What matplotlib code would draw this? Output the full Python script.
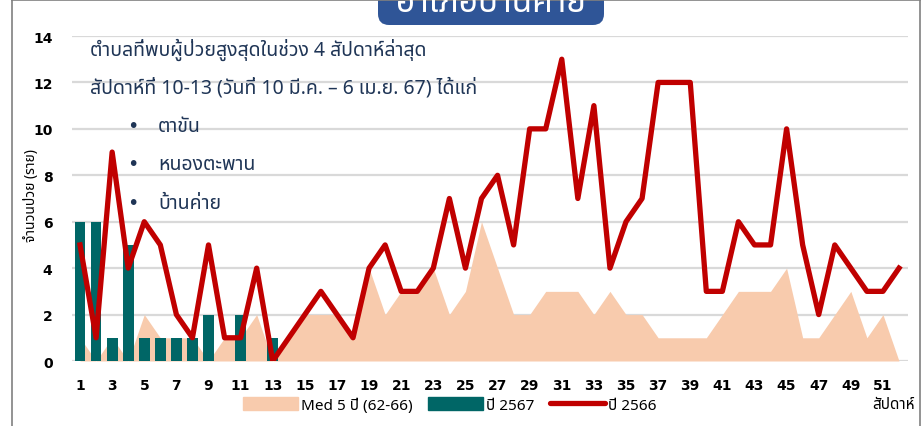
import matplotlib
matplotlib.use("Agg")
import matplotlib.pyplot as plt
from matplotlib import font_manager
from matplotlib.ft2font import FT2Font
from matplotlib.patches import Patch, FancyBboxPatch
from matplotlib.lines import Line2D


def find_thai_font():
    # หา font ที่มีตัวอักษรไทย
    preferred = ["Noto Sans Thai", "Noto Sans Thai Looped", "Loma", "Garuda",
                 "Norasi", "Sarabun", "Kinnari", "Tlwg Typo", "Waree"]
    names = {f.name: f.fname for f in font_manager.fontManager.ttflist}
    for p in preferred:
        if p in names:
            return p
    for f in font_manager.fontManager.ttflist:
        try:
            if ord("ก") in FT2Font(f.fname).get_charmap():
                return f.name
        except Exception:
            pass
    return "DejaVu Sans"


thai = find_thai_font()
plt.rcParams["font.family"] = [thai, "DejaVu Sans"]

weeks = list(range(1, 53))

# ปี 2566
y2566 = [5, 1, 9, 4, 6, 5, 2, 1, 5, 1, 1, 4, 0, 1, 2, 3, 2, 1, 4, 5,
         3, 3, 4, 7, 4, 7, 8, 5, 10, 10, 13, 7, 11, 4, 6, 7, 12, 12, 12, 3,
         3, 6, 5, 5, 10, 5, 2, 5, 4, 3, 3, 4]

# ปี 2567 (ถึงสัปดาห์ 13)
weeks2567 = list(range(1, 14))
y2567 = [6, 6, 1, 5, 1, 1, 1, 1, 2, 0, 2, 0, 1]

# Med 5 ปี (62-66)
median = [1, 0, 1, 0, 2, 1, 1, 1, 0, 1, 1, 2, 0, 1, 2, 2, 2, 1, 4, 2,
          3, 3, 4, 2, 3, 6, 4, 2, 2, 3, 3, 3, 2, 3, 2, 2, 1, 1, 1, 1,
          2, 3, 3, 3, 4, 1, 1, 2, 3, 1, 2, 0]

xticks = list(range(1, 52, 2))

fig = plt.figure(figsize=(9.23, 4.27), dpi=100)
ax = fig.add_axes([72 / 923, 1 - 362 / 427, (908 - 72) / 923, (362 - 37) / 427])

ax.fill_between(weeks, median, 0, color="#f8cbad", linewidth=0, zorder=1)
ax.bar(weeks2567, y2567, width=0.67, color="#006666", zorder=2)
ax.plot(weeks, y2566, color="#c00000", linewidth=3.8, zorder=3)

ax.set_xlim(0.5, 52.56)
ax.set_ylim(0, 14)
ax.set_yticks(range(0, 15, 2))
ax.set_xticks(xticks)
ax.tick_params(length=0, labelsize=10, pad=12)
for lab in ax.get_xticklabels() + ax.get_yticklabels():
    lab.set_fontweight("bold")
    lab.set_family("DejaVu Sans")
ax.tick_params(axis="y", pad=14)
ax.grid(axis="y", color="#d9d9d9", linewidth=1.6)
ax.set_axisbelow(True)
for s in ax.spines.values():
    s.set_visible(False)

fig.text(32 / 923, 1 - 196 / 427, "จำนวนป่วย (ราย)", rotation=90,
         ha="center", va="center", fontsize=10)

# ข้อความตำบล
navy = "#1f3556"
ax.text(90 / 923, 1 - 50 / 427, "ตำบลที่พบผู้ป่วยสูงสุดในช่วง 4 สัปดาห์ล่าสุด",
        transform=fig.transFigure, fontsize=14, color=navy, va="center")
ax.text(90 / 923, 1 - 88 / 427, "สัปดาห์ที่ 10-13 (วันที่ 10 มี.ค. – 6 เม.ย. 67) ได้แก่",
        transform=fig.transFigure, fontsize=14, color=navy, va="center")
for name, yy in [("ตาขัน", 127), ("หนองตะพาน", 165), ("บ้านค่าย", 204)]:
    fig.text(133 / 923, 1 - yy / 427, "•", fontsize=14, color=navy,
             ha="center", va="center", family="DejaVu Sans")
    fig.text(158 / 923, 1 - yy / 427, name, fontsize=14, color=navy, va="center")

# legend
handles = [Patch(color="#f8cbad", label="Med 5 ปี (62-66)"),
           Patch(color="#006666", label="ปี 2567"),
           Line2D([0], [0], color="#c00000", linewidth=3.8,
                  solid_capstyle="round", label="ปี 2566")]
fig.legend(handles=handles, loc="center", bbox_to_anchor=(450 / 923, 1 - 406 / 427),
           ncol=3, frameon=False, fontsize=11, handlelength=3.6,
           handleheight=0.9, columnspacing=1.0, handletextpad=0.2)
fig.text(915 / 923, 1 - 406 / 427, "สัปดาห์", ha="right", va="center", fontsize=11)

# กรอบ
fig.add_artist(Line2D([12 / 923, 12 / 923], [0, 1 - 1 / 427], color="#808080",
                      linewidth=1.2, transform=fig.transFigure))
fig.add_artist(Line2D([920 / 923, 920 / 923], [0, 1 - 1 / 427], color="#808080",
                      linewidth=1.2, transform=fig.transFigure))
fig.add_artist(Line2D([12 / 923, 920 / 923], [1 - 1 / 427, 1 - 1 / 427], color="#808080",
                      linewidth=1.2, transform=fig.transFigure))

# หัวเรื่อง (ถูกตัดขอบบนเหมือนต้นฉบับ)
box = FancyBboxPatch((378 / 923, 1 - 26 / 427), 226 / 923, 40 / 427,
                     boxstyle="round,pad=0,rounding_size=0.012",
                     transform=fig.transFigure, facecolor="#2f5597",
                     edgecolor="none", mutation_aspect=923 / 427)
fig.add_artist(box)
fig.text(491 / 923, 1 - 3 / 427, "อำเภอบ้านค่าย", ha="center", va="center",
         fontsize=24, color="white", fontweight="bold")

fig.savefig("out.png", dpi=100)
